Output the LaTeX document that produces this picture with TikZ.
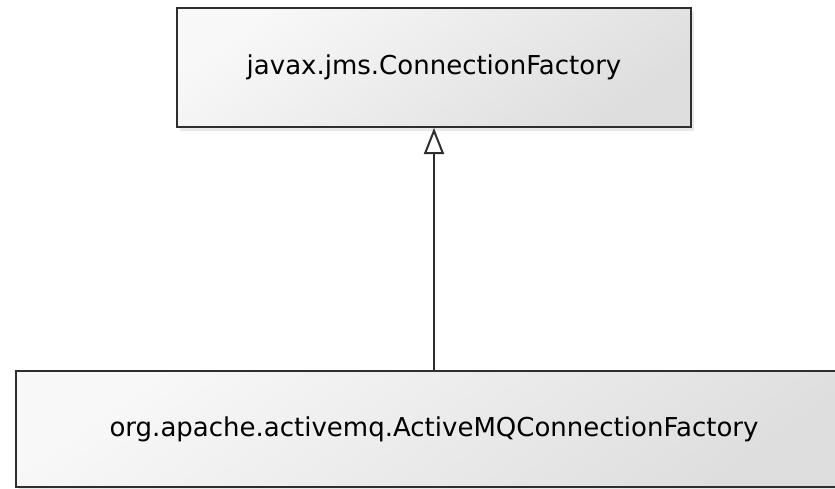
\documentclass[tikz,border=0pt]{standalone}
\usepackage{fontspec}
\setmainfont{DejaVu Sans}
\usetikzlibrary{arrows.meta,shadows,positioning}
\definecolor{umlline}{HTML}{2E2E2E}
\definecolor{umlfillA}{HTML}{F8F8F8}
\definecolor{umlfillB}{HTML}{DEDEDE}
\begin{document}
\begin{tikzpicture}[x=1pt,y=-1pt,
  classbox/.style={draw=umlline, line width=2pt, top color=umlfillA,
    bottom color=umlfillB, shading angle=35,
    drop shadow={opacity=0.18, shadow xshift=3pt, shadow yshift=-4pt},
    font=\fontsize{26}{30}\selectfont, inner sep=0pt},
  generalize/.style={draw=umlline, line width=2pt,
    -{Triangle[length=26pt, width=20pt, fill=white]}}]
\fill[white] (0,0) rectangle (835,488);
\useasboundingbox (0,0) rectangle (835,488);
\clip (0,0) rectangle (835,488);
% classes
\node [classbox, minimum width=514pt, minimum height=119pt] (factory) at (434,67.5) {javax.jms.ConnectionFactory};
\node [classbox, minimum width=836pt, minimum height=116pt] (amqfactory) at (434,429) {org.apache.activemq.ActiveMQConnectionFactory};
% inheritance
\draw [generalize] (amqfactory.north) -- (factory.south);
\end{tikzpicture}
\end{document}
